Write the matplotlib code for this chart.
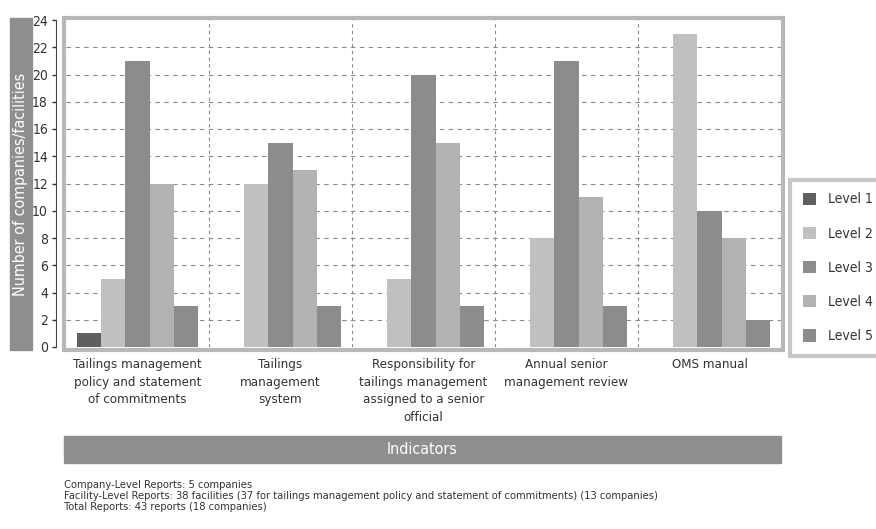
import matplotlib
matplotlib.use("Agg")
import matplotlib.pyplot as plt
import numpy as np
from matplotlib import font_manager
from matplotlib.patches import Rectangle

# pick a narrow font if there is one
names = {f.name for f in font_manager.fontManager.ttflist}
if "Liberation Sans Narrow" in names:
    plt.rcParams['font.family'] = ['Liberation Sans Narrow', 'DejaVu Sans']
else:
    plt.rcParams['font.family'] = ['DejaVu Sans']
    plt.rcParams['font.stretch'] = 'condensed'

indicators = ["Tailings management\npolicy and statement\nof commitments",
              "Tailings\nmanagement\nsystem",
              "Responsibility for\ntailings management\nassigned to a senior\nofficial",
              "Annual senior\nmanagement review",
              "OMS manual"]
levels = ["Level 1", "Level 2", "Level 3", "Level 4", "Level 5"]
level1 = [1, 0, 0, 0, 0]
level2 = [5, 12, 5, 8, 23]
level3 = [21, 15, 20, 21, 10]
level4 = [12, 13, 15, 11, 8]
level5 = [3, 3, 3, 3, 2]
notes = ["Company-Level Reports: 5 companies",
         "Facility-Level Reports: 38 facilities (37 for tailings management policy and statement of commitments) (13 companies)",
         "Total Reports: 43 reports (18 companies)"]

colors = ["#5f5f5f", "#c0c0c0", "#8c8c8c", "#b2b2b2", "#8c8c8c"]
frame_gray = "#b8b8b8"
box_gray = "#8f8f8f"

W, H = 876, 529
fig = plt.figure(figsize=(W/100, H/100), dpi=100)
ax = fig.add_axes([66/W, 1-347/H, (781-66)/W, (347-20)/H])

x = np.arange(len(indicators))
bw = 0.168
series = [level1, level2, level3, level4, level5]
for i, vals in enumerate(series):
    ax.bar(x + (i-2)*bw, vals, bw, color=colors[i], label=levels[i], zorder=3)

ax.set_xlim(-0.5, 4.5)
ax.set_ylim(0, 24)
ax.set_yticks(range(0, 25, 2))
ax.set_xticks(x)
ax.set_xticklabels(indicators, fontsize=9.5, linespacing=1.45, color="#333333", va="top")
ax.tick_params(axis='x', length=0, pad=8)
ax.tick_params(axis='y', length=3, width=1, pad=3, labelsize=10, colors="#333333")

for s in ['top', 'right', 'bottom']:
    ax.spines[s].set_visible(False)
ax.spines['left'].set_position(('outward', 7))
ax.spines['left'].set_color("#444444")

# dashed grid
for yv in range(2, 23, 2):
    ax.axhline(yv, color="#8a8a8a", lw=0.8, ls=(0, (4, 4)), zorder=1)
for xv in [0.5, 1.5, 2.5, 3.5]:
    ax.axvline(xv, color="#8a8a8a", lw=0.8, ls=(0, (3, 3)), zorder=1)

# gray frame round the plot area
fig.patches.append(Rectangle((64/W, 1-350/H), (783-64)/W, (350-18)/H,
                             transform=fig.transFigure, fill=False,
                             edgecolor=frame_gray, lw=3, zorder=5))

# y label box
fig.patches.append(Rectangle((10/W, 1-350/H), 22/W, (350-18)/H,
                             transform=fig.transFigure, color=box_gray, zorder=0))
fig.text(21/W, 1-184/H, "Number of companies/facilities", rotation=90,
         ha="center", va="center", color="white", fontsize=11.5)

# indicators box
fig.patches.append(Rectangle((64/W, 1-463/H), (781-64)/W, 27/H,
                             transform=fig.transFigure, color=box_gray, zorder=0))
fig.text((64+781)/2/W, 1-449.5/H, "Indicators", ha="center", va="center",
         color="white", fontsize=11.5)

for i, t in enumerate(notes):
    fig.text(64/W, 1-(485+11*i)/H, t, ha="left", va="center", fontsize=8, color="#333333")

leg = fig.legend(loc="upper left", bbox_to_anchor=(790/W, 1-180/H), fontsize=10,
                 handlelength=1.0, handleheight=1.0, labelspacing=1.45,
                 borderpad=0.9, borderaxespad=0, handletextpad=0.8, fancybox=False)
leg.get_frame().set_edgecolor(frame_gray)
leg.get_frame().set_linewidth(3)
for t in leg.get_texts():
    t.set_color("#333333")

fig.savefig("out.png", dpi=100)
